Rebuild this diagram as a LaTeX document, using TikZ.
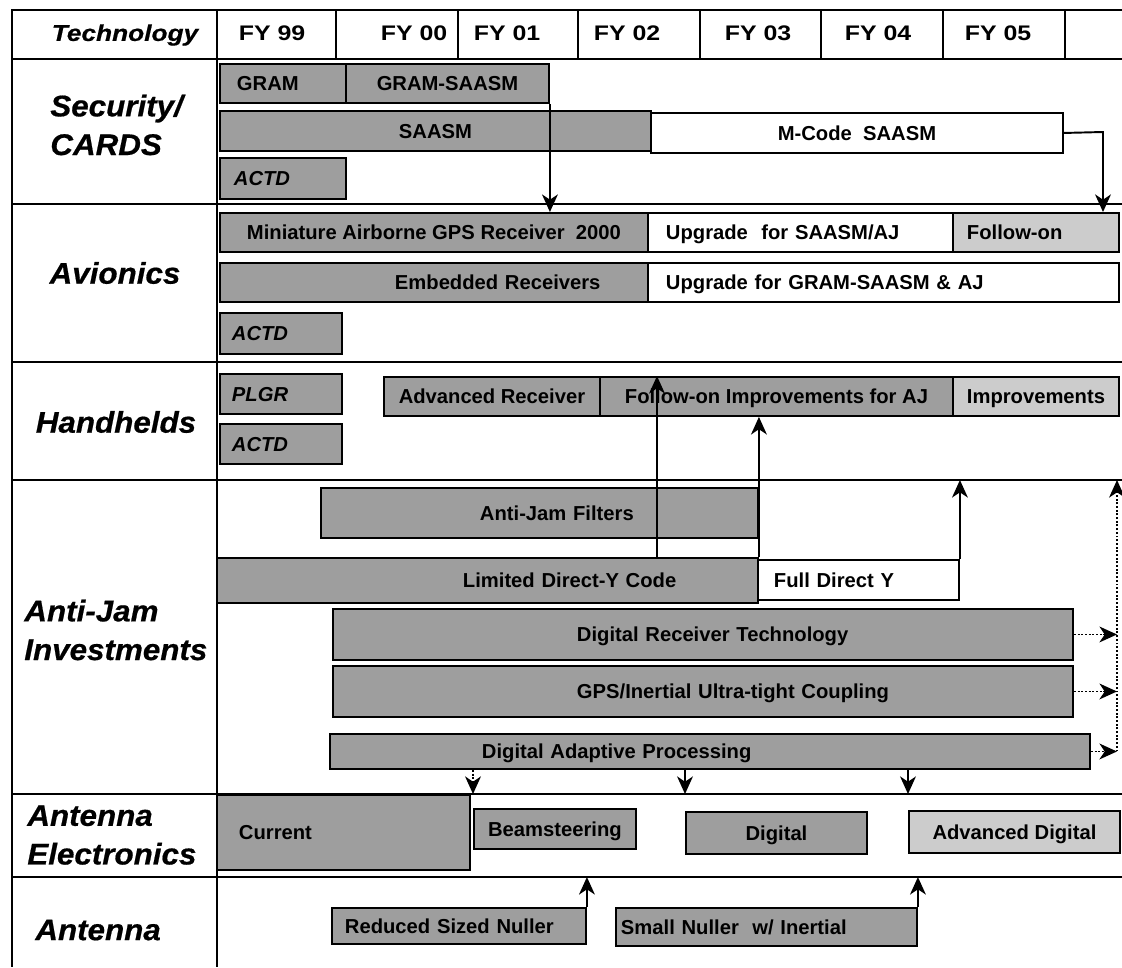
\documentclass[tikz,border=0pt]{standalone}
\usepackage{fontspec}
\setmainfont{Liberation Sans}
\newfontfamily\rowfont[FakeStretch=1.05, FakeBold=0.6]{Liberation Sans}
\newfontfamily\techfont[FakeStretch=1.15, FakeBold=0.6]{Liberation Sans}
\newfontfamily\yearfont[FakeStretch=1.18]{Liberation Sans}
\usetikzlibrary{arrows.meta}

\definecolor{bargray}{gray}{0.62}
\definecolor{barpale}{gray}{0.80}
\newdimen\pxu \pxu=0.02cm

\begin{document}
\begin{tikzpicture}[x=0.02cm, y=-0.02cm,
  every node/.style={font=\bfseries\fontsize{11.5}{13}\selectfont},
  dims/.style 2 args={minimum width=#1*0.02cm, minimum height=#2*0.02cm},
  lpad/.style 2 args={text width=#1*0.02cm, align=left,
    execute at begin node={\hspace*{#2\pxu}}},
  tbar/.style={draw, line width=1.1pt, fill=bargray, anchor=north west,
    inner sep=0pt, text height=8.2pt, text depth=0pt},
  tpale/.style={tbar, fill=barpale},
  twhite/.style={tbar, fill=white},
  ital/.style={font=\bfseries\itshape\fontsize{11.5}{13}\selectfont},
  rowlab/.style={font=\rowfont\bfseries\itshape\fontsize{17}{22}\selectfont,
    align=left, inner sep=0pt},
  yearlab/.style={font=\yearfont\bfseries\fontsize{12}{14}\selectfont, inner sep=0pt},
  gridline/.style={line width=1.1pt},
  flow/.style={line width=1.1pt, -{Stealth[length=10pt, width=9pt, inset=3pt]}},
  dotflow/.style={flow, densely dotted},
]

%% ── Frame (1 unit = 1 px of the 1122 x 967 page, y down) ─────────────────────
% label column 12..217, year columns 217..1122
% row lines: header 59, security 204, avionics 362, handhelds 480,
%            anti-jam 794, antenna electronics 877
\useasboundingbox (0,0) rectangle (1122,967);
\draw[line width=1.7pt] (12,10) -- (1122,10);
\draw[gridline] (12,9) -- (12,967);
\draw[gridline] (217,10) -- (217,967);
\foreach \ypos in {59,204,362,480,794,877}{
  \draw[gridline] (12,\ypos) -- (1122,\ypos);
}
\foreach \xpos in {336,458,578,700,821,943,1065}{
  \draw[gridline] (\xpos,10) -- (\xpos,59);
}
\coordinate (hhline) at (12,480);
\coordinate (aeline) at (12,794);
\coordinate (anline) at (12,877);

%% ── Header ───────────────────────────────────────────────────────────────────
\node[rowlab, font=\techfont\bfseries\itshape\fontsize{13}{15}\selectfont]
  (ltech) at (125,35) {Technology};
\foreach \xpos/\lab in {272/99, 414/00, 507/01, 627/02, 758/03, 878/04, 998/05}{
  \node[yearlab] (fy\lab) at (\xpos,33) {FY \lab};
}

%% ── Row labels ───────────────────────────────────────────────────────────────
\node[rowlab, anchor=west] (lsec)  at (50,125)  {Security/\\CARDS};
\node[rowlab]              (lavi)  at (115,273) {Avionics};
\node[rowlab]              (lhand) at (116,422) {Handhelds};
\node[rowlab, anchor=west] (ljam)  at (24,630)  {Anti-Jam\\Investments};
\node[rowlab, anchor=west] (lae)   at (27,835)  {Antenna\\Electronics};
\node[rowlab, anchor=west] (lant)  at (35,930)  {Antenna};

%% ── Security/CARDS ───────────────────────────────────────────────────────────
\node[tbar, dims={126}{39}, lpad={126}{17}] (gram)   at (219,63)  {GRAM};
\node[tbar, dims={203}{39}]                 (gsaasm) at (345,63)  {GRAM-SAASM};
\node[tbar, dims={431}{40}]                 (saasm)  at (219,110) {SAASM};
\node[twhite, dims={412}{40}]               (mcode)  at (650,112) {M-Code\ \ SAASM};
\node[tbar, ital, dims={126}{41}, lpad={126}{14}] (scactd) at (219,157) {ACTD};

%% ── Avionics ─────────────────────────────────────────────────────────────────
\node[tbar, dims={428}{39}] (mag) at (219,212)
  {Miniature Airborne GPS Receiver\ \ 2000};
\node[twhite, dims={305}{39}, lpad={305}{18}] (magup)  at (647,212) {Upgrade\ \ for SAASM/AJ};
\node[tpale, dims={166}{39}, lpad={166}{14}]  (magfol) at (952,212) {Follow-on};
\node[tbar, dims={428}{39}, lpad={428}{175}]  (emb)    at (219,262) {Embedded Receivers};
\node[twhite, dims={471}{39}, lpad={471}{18}] (embup)  at (647,262) {Upgrade for GRAM-SAASM \& AJ};
\node[tbar, ital, dims={122}{41}, lpad={122}{12}] (avactd) at (219,312) {ACTD};

%% ── Handhelds ────────────────────────────────────────────────────────────────
\node[tbar, ital, dims={122}{40}, lpad={122}{12}] (plgr) at (219,373) {PLGR};
\node[tbar, dims={216}{39}]  (advr)   at (383,376) {Advanced Receiver};
\node[tbar, dims={353}{39}]  (hhfol)  at (599,376) {Follow-on Improvements for AJ};
\node[tpale, dims={166}{39}] (hhimp)  at (952,376) {Improvements};
\node[tbar, ital, dims={122}{40}, lpad={122}{12}] (hhactd) at (219,423) {ACTD};

%% ── Anti-Jam Investments ─────────────────────────────────────────────────────
\node[tbar, dims={437}{50}, lpad={437}{159}]  (ajf) at (320,487) {Anti-Jam Filters};
\node[tbar, dims={541}{45}, lpad={541}{246}]  (ldy) at (216,557) {Limited Direct-Y Code};
\node[twhite, dims={201}{40}, lpad={201}{16}] (fdy) at (757,559) {Full Direct Y};
\node[tbar, dims={740}{51}, lpad={740}{244}]  (drt) at (332,608) {Digital Receiver Technology};
\node[tbar, dims={740}{51}, lpad={740}{244}]  (gps) at (332,665) {GPS/Inertial Ultra-tight Coupling};
\node[tbar, dims={760}{35}, lpad={760}{152}]  (dap) at (329,733) {Digital Adaptive Processing};

%% ── Antenna Electronics ──────────────────────────────────────────────────────
\node[tbar, dims={253}{75}, lpad={253}{22}] (cur)  at (216,794) {Current};
\node[tbar, dims={162}{40}]                 (beam) at (473,808) {Beamsteering};
\node[tbar, dims={181}{42}]                 (dig)  at (685,811) {Digital};
\node[tpale, dims={211}{42}]                (advd) at (908,810) {Advanced Digital};

%% ── Antenna ──────────────────────────────────────────────────────────────────
\node[tbar, dims={254}{36}, lpad={254}{13}] (rsn) at (331,907) {Reduced Sized Nuller};
\node[tbar, dims={301}{38}, lpad={301}{5}]  (snu) at (615,907) {Small Nuller\ \ w/ Inertial};

%% ── Transitions ──────────────────────────────────────────────────────────────
\coordinate (mcturn) at (1103,132);
\coordinate (yfeed)  at (657,0);
\coordinate (ajrail) at (1117,480);

\draw[flow] (gsaasm.south east) -- (gsaasm.south east |- mag.north);
\draw[flow] (mcode.east) -- (mcturn) -- (mcturn |- magfol.north);

\draw[flow] (yfeed |- ldy.north) -- (yfeed |- hhfol.north);
\draw[flow] (ldy.north east) -- (ldy.north east |- hhfol.south);
\draw[flow] (fdy.north east) -- (fdy.north east |- hhline);

\draw[dotflow] (drt.east) -- (drt.east -| ajrail);
\draw[dotflow] (gps.east) -- (gps.east -| ajrail);
\draw[dotflow] (dap.east) -- (dap.east -| ajrail);
\draw[dotflow] (dap.east -| ajrail) -- (ajrail);

\draw[dotflow] (dap.south -| beam.west) -- (beam.west |- aeline);
\draw[flow]    (dap.south -| dig.west)  -- (dig.west |- aeline);
\draw[flow]    (dap.south -| advd.west) -- (advd.west |- aeline);

\draw[flow] (rsn.north east) -- (rsn.north east |- anline);
\draw[flow] (snu.north east) -- (snu.north east |- anline);

\end{tikzpicture}
\end{document}
